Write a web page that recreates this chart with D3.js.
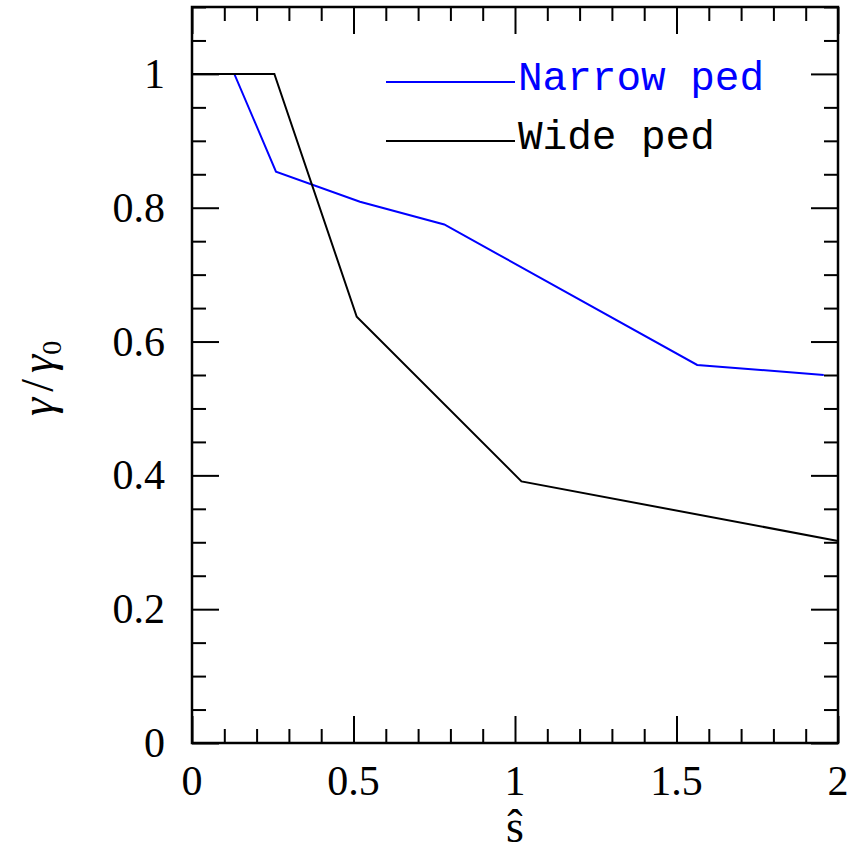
<!DOCTYPE html>
<html>
<head>
<meta charset="utf-8">
<script src="https://cdn.jsdelivr.net/npm/d3@7"></script>
<style>
  body { margin: 0; background: #fff; }
  text { fill: #000; }
</style>
</head>
<body>
<div id="chart"></div>
<script>
// values
var narrowS = [0.064, 0.131, 0.26, 0.52, 0.781, 1.564, 1.956];
var narrowG = [1.0, 1.0, 0.854, 0.809, 0.775, 0.565, 0.550];
var wideS = [0.0, 0.255, 0.51, 1.02, 2.0];
var wideG = [1.0, 1.0, 0.637, 0.391, 0.302];
var xTicks = [0, 0.5, 1, 1.5, 2];
var xTickLabels = ["0", "0.5", "1", "1.5", "2"];
var yTicks = [0, 0.2, 0.4, 0.6, 0.8, 1];
var yTickLabels = ["0", "0.2", "0.4", "0.6", "0.8", "1"];
var seriesNames = ["Narrow ped", "Wide ped"];
var seriesColors = ["#0000ff", "#000000"];

var svgWidth = 863, svgHeight = 853;
var margin = { top: 7, right: 25, bottom: 110, left: 192 };
var width = svgWidth - margin.left - margin.right;
var height = svgHeight - margin.top - margin.bottom;

var svg = d3.select("#chart").append("svg")
    .attr("width", svgWidth)
    .attr("height", svgHeight)
    .append("g")
    .attr("transform", "translate(" + margin.left + "," + margin.top + ")");

var x = d3.scaleLinear().domain([0, 2]).range([0, width]);
var y = d3.scaleLinear().domain([0, 1.1]).range([height, 0]);

var xMinor = d3.range(0, 2.0001, 0.1).filter(function(v) { return Math.abs(v * 2 - Math.round(v * 2)) > 1e-6; });
var yMinor = d3.range(0, 1.1001, 0.05).filter(function(v) { return Math.abs(v * 5 - Math.round(v * 5)) > 1e-6; });

function tickAxis(axisFn, scale, values, size) {
    return axisFn(scale).tickValues(values).tickSize(-size).tickFormat("");
}

var majorLen = 27, minorLen = 14;

// bottom / top
svg.append("g").attr("class", "ax").attr("transform", "translate(0," + height + ")")
    .call(tickAxis(d3.axisBottom, x, xTicks, majorLen));
svg.append("g").attr("class", "ax").attr("transform", "translate(0," + height + ")")
    .call(tickAxis(d3.axisBottom, x, xMinor, minorLen));
svg.append("g").attr("class", "ax")
    .call(tickAxis(d3.axisTop, x, xTicks, majorLen));
svg.append("g").attr("class", "ax")
    .call(tickAxis(d3.axisTop, x, xMinor, minorLen));
// left / right
svg.append("g").attr("class", "ax")
    .call(tickAxis(d3.axisLeft, y, yTicks, majorLen));
svg.append("g").attr("class", "ax")
    .call(tickAxis(d3.axisLeft, y, yMinor, minorLen));
svg.append("g").attr("class", "ax").attr("transform", "translate(" + width + ",0)")
    .call(tickAxis(d3.axisRight, y, yTicks, majorLen));
svg.append("g").attr("class", "ax").attr("transform", "translate(" + width + ",0)")
    .call(tickAxis(d3.axisRight, y, yMinor, minorLen));

svg.selectAll(".ax .domain").remove();
svg.selectAll(".ax line").attr("stroke", "#000").attr("stroke-width", 2);

// frame
svg.append("rect")
    .attr("x", 0).attr("y", 0)
    .attr("width", width).attr("height", height)
    .attr("fill", "none")
    .attr("stroke", "#000")
    .attr("stroke-width", 2.5);

// tick labels
svg.selectAll(".xlab")
    .data(xTicks)
    .enter().append("text")
    .attr("x", function(d) { return x(d); })
    .attr("y", height + 52)
    .attr("text-anchor", "middle")
    .style("font-family", "'Liberation Serif', serif")
    .style("font-size", "42px")
    .text(function(d, i) { return xTickLabels[i]; });

svg.selectAll(".ylab")
    .data(yTicks)
    .enter().append("text")
    .attr("x", -27)
    .attr("y", function(d) { return y(d) + 14; })
    .attr("text-anchor", "end")
    .style("font-family", "'Liberation Serif', serif")
    .style("font-size", "42px")
    .text(function(d, i) { return yTickLabels[i]; });

// axis titles
svg.append("text")
    .attr("x", x(1))
    .attr("y", height + 99)
    .attr("text-anchor", "middle")
    .style("font-family", "'Liberation Serif', serif")
    .style("font-size", "46px")
    .text("\u015D");

var yt = svg.append("text")
    .attr("transform", "translate(" + (-139) + "," + (y(0.545)) + ") rotate(-90)")
    .attr("text-anchor", "middle")
    .style("font-family", "'Liberation Serif', serif")
    .style("font-size", "46px");
yt.append("tspan").style("font-style", "italic").text("\u03B3");
yt.append("tspan").attr("dx", 6).text("/");
yt.append("tspan").attr("dx", 6).style("font-style", "italic").text("\u03B3");
yt.append("tspan").attr("dy", 8).style("font-size", "28px").text("0");

// lines
var line = d3.line()
    .x(function(d) { return x(d[0]); })
    .y(function(d) { return y(d[1]); });

var series = [d3.zip(narrowS, narrowG), d3.zip(wideS, wideG)];

svg.selectAll(".series")
    .data(series)
    .enter().append("path")
    .attr("class", "series")
    .attr("d", line)
    .attr("fill", "none")
    .attr("stroke", function(d, i) { return seriesColors[i]; })
    .attr("stroke-width", 2);

// legend
var legend = svg.selectAll(".legend")
    .data(seriesNames)
    .enter().append("g")
    .attr("class", "legend")
    .attr("transform", function(d, i) { return "translate(" + (386 - margin.left) + "," + (82 - margin.top + i * 59) + ")"; });

legend.append("line")
    .attr("x1", 0).attr("x2", 129)
    .attr("y1", 0).attr("y2", 0)
    .attr("stroke", function(d, i) { return seriesColors[i]; })
    .attr("stroke-width", 2);

legend.append("text")
    .attr("x", 132)
    .attr("y", 8)
    .style("font-family", "'Liberation Mono', monospace")
    .style("font-size", "41px")
    .style("fill", function(d, i) { return seriesColors[i]; })
    .text(function(d) { return d; });
</script>
</body>
</html>
